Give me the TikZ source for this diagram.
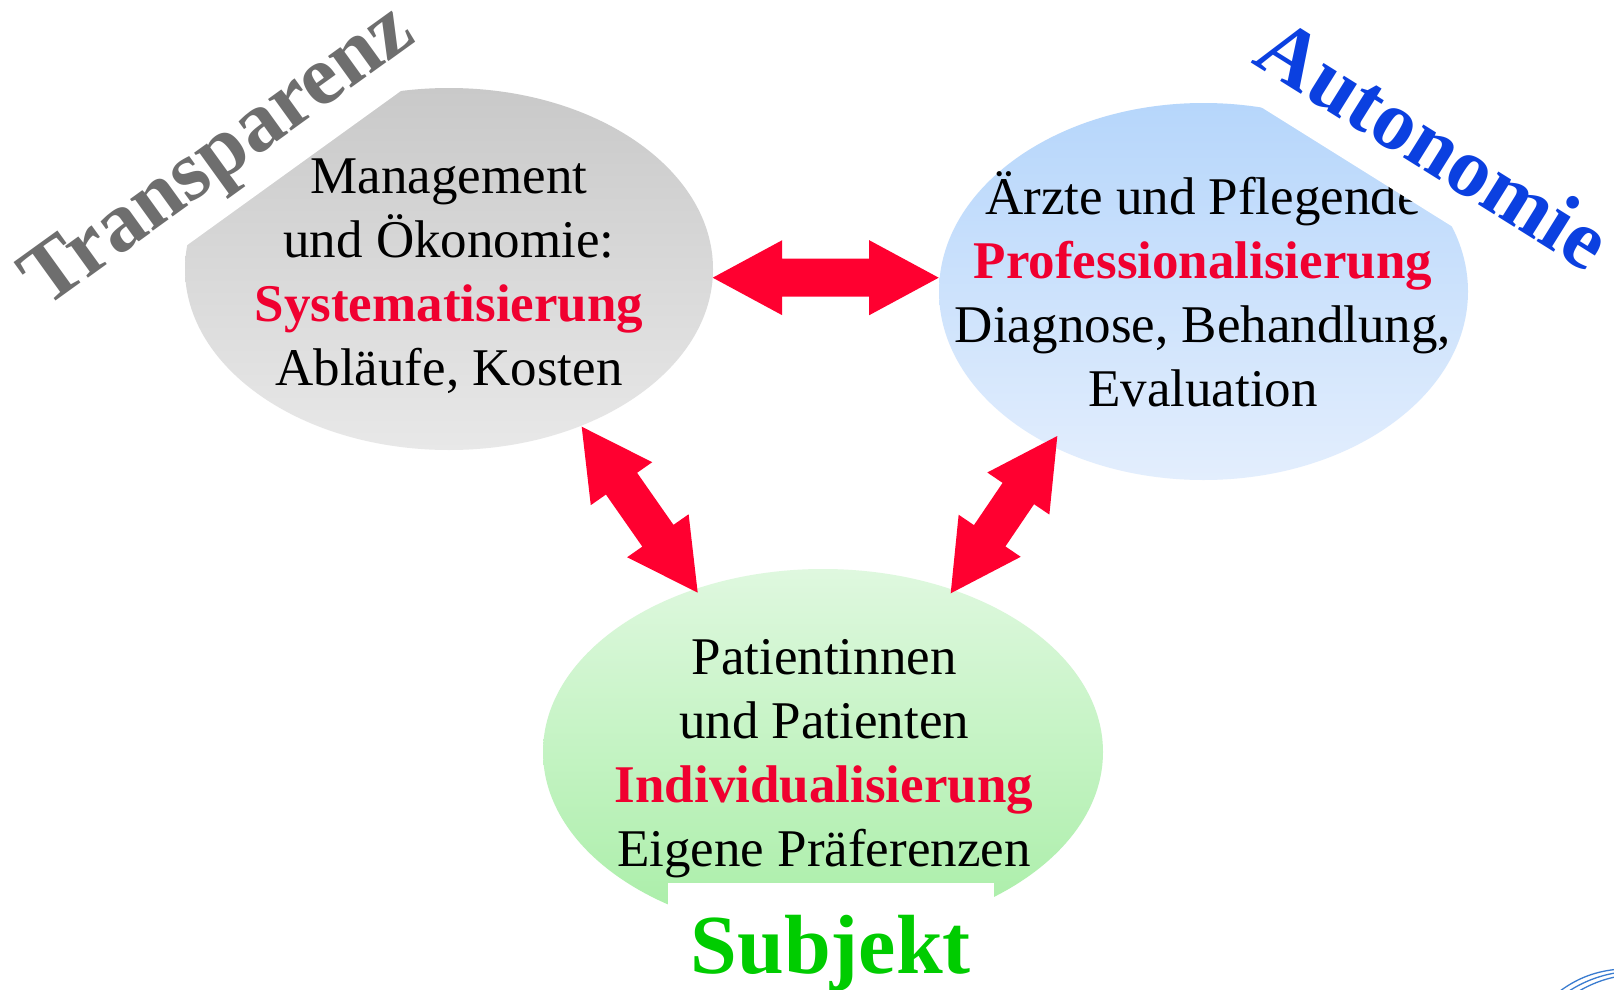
\documentclass[tikz,border=0pt]{standalone}
\usepackage{fontspec}
\setmainfont{Liberation Serif}
\usetikzlibrary{shapes.geometric,calc}
\definecolor{tgray}{HTML}{6E6E6E}
\definecolor{tblue}{HTML}{0B40E0}
\definecolor{tgreen}{HTML}{00CC00}
\definecolor{tred}{HTML}{F00030}
\definecolor{ared}{HTML}{FF0030}
\definecolor{gtop}{HTML}{C9C9C9}
\definecolor{gbot}{HTML}{E8E8E8}
\definecolor{btop}{HTML}{B6D6FB}
\definecolor{bbot}{HTML}{E3EEFD}
\definecolor{grtop}{HTML}{DFF8DF}
\definecolor{grbot}{HTML}{A8EEA6}
\definecolor{logoblue}{HTML}{3A7CD0}
\newcommand{\linesblock}[1]{\begin{tabular}[t]{@{}c@{}}#1\end{tabular}}
\newcommand{\redkw}[1]{\textbf{\color{tred}#1}}
\newcommand{\fatdarrow}[2]{%
  \fill[ared] (#1)
    -- ($(#1)!69.5pt!(#2)!37.5pt!90:(#2)$)
    -- ($(#1)!69.5pt!(#2)!19pt!90:(#2)$)
    -- ($(#2)!69.5pt!(#1)!19pt!-90:(#1)$)
    -- ($(#2)!69.5pt!(#1)!37.5pt!-90:(#1)$)
    -- (#2)
    -- ($(#2)!69.5pt!(#1)!37.5pt!90:(#1)$)
    -- ($(#2)!69.5pt!(#1)!19pt!90:(#1)$)
    -- ($(#1)!69.5pt!(#2)!19pt!-90:(#2)$)
    -- ($(#1)!69.5pt!(#2)!37.5pt!-90:(#2)$)
    -- cycle;}
\tikzset{
  bubble/.style={ellipse, inner sep=0pt, draw=none},
  body/.style={inner sep=0pt, anchor=base, font=\fontsize{53}{64}\selectfont},
  wordbox/.style={fill=white, inner xsep=0pt},
}
\begin{document}
\begin{tikzpicture}[x=1pt,y=-1pt]
\useasboundingbox (0,0) rectangle (1614,990);
\fill[white] (0,0) rectangle (1614,990);

% bubbles
\node[bubble, minimum width=528pt, minimum height=362pt, top color=gtop, bottom color=gbot] (mgmt) at (449,269) {};
\node[bubble, minimum width=529pt, minimum height=377pt, top color=btop, bottom color=bbot] (prof) at (1203.5,291.5) {};
\node[bubble, minimum width=560pt, minimum height=366pt, top color=grtop, bottom color=grbot] (pat) at (823,752) {};

% headings with white boxes
\node[wordbox, text=tgray, font=\bfseries\fontsize{85}{90}\selectfont, rotate=35.8, anchor=base west, text depth=18pt, inner ysep=13pt] (transp) at (45.5,309) {Transparenz};

\node[body] (mgmttext) at (449,193.5) {\linesblock{Management\\und Ökonomie:\\\redkw{Systematisierung}\\Abläufe, Kosten}};

\node[body] (proftext) at (1203,214) {\linesblock{Ärzte und Pflegende\\\redkw{Professionalisierung}\\Diagnose, Behandlung,\\Evaluation}};

\node[wordbox, text=tblue, font=\bfseries\fontsize{84}{90}\selectfont, rotate=-32, anchor=base west, text depth=0pt, inner ysep=32pt] (auton) at (1250.6,62.8) {Autonomie};

\node[wordbox, text=tgreen, font=\bfseries\fontsize{84}{90}\selectfont, anchor=base, text height=57pt, text depth=18pt, inner xsep=23pt, inner ysep=33pt] (subj) at (830.8,973) {Subjekt};

\node[body] (pattext) at (824,674) {\linesblock{Patientinnen\\und Patienten\\\redkw{Individualisierung}\\Eigene Präferenzen}};

% arrows
\coordinate (hL) at (712.7,277.7);
\coordinate (hR) at (938.7,277.7);
\coordinate (dLa) at (581.7,426.7);
\coordinate (dLb) at (697.7,592.7);
\coordinate (dRa) at (1057.3,436);
\coordinate (dRb) at (950.7,593.3);
\fatdarrow{hL}{hR}
\fatdarrow{dLa}{dLb}
\fatdarrow{dRa}{dRb}

% logo fragment
\draw[logoblue, line width=1.3pt] (1560,991) .. controls (1575,980) and (1592,972) .. (1615,969.5);
\draw[logoblue, line width=1.3pt] (1569,991) .. controls (1583,982) and (1598,976) .. (1615,973);
\draw[logoblue, line width=1.3pt] (1579,991) .. controls (1591,984) and (1603,979.5) .. (1615,977);
\end{tikzpicture}
\end{document}
